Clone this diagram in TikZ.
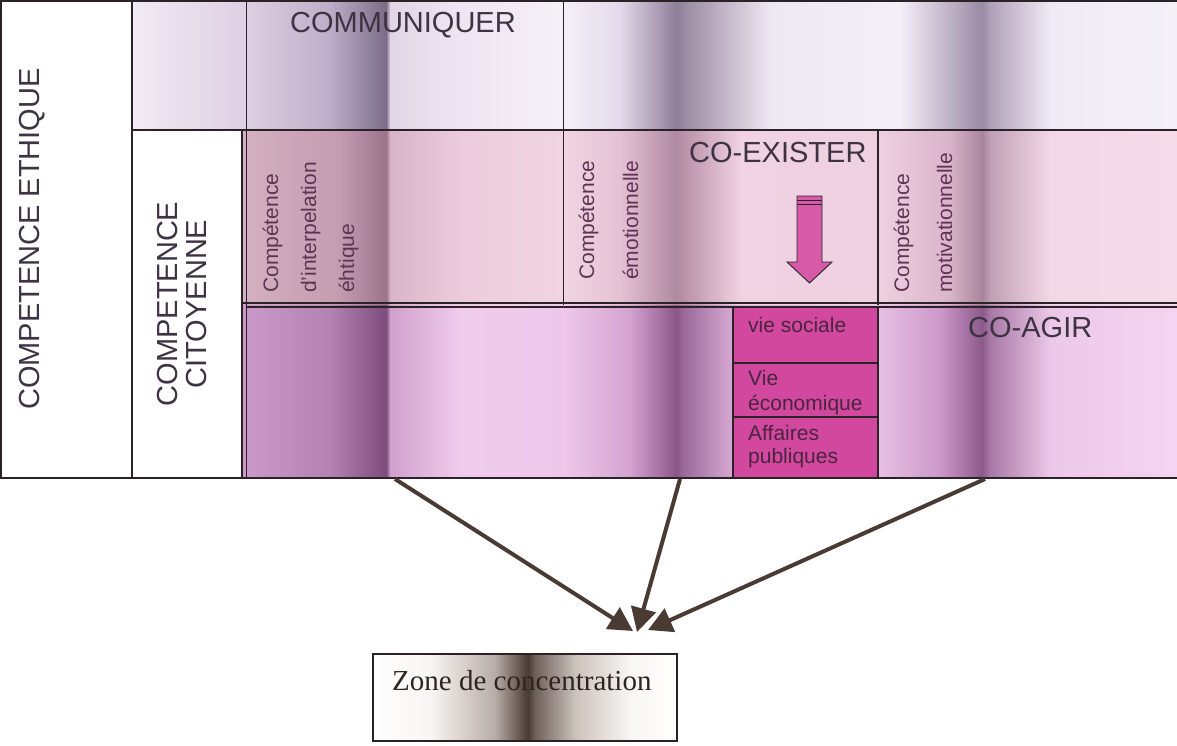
\documentclass[tikz,border=0pt]{standalone}
\usepackage{fontspec}
\setmainfont{Liberation Serif}
\newfontfamily\arial{Liberation Sans}
\usetikzlibrary{arrows.meta}
% top band colours
\definecolor{top1}{HTML}{F2EAF4}\definecolor{top2}{HTML}{DCD0E2}\definecolor{top3}{HTML}{BCAEC8}\definecolor{top4}{HTML}{7C6C88}
\definecolor{top5}{HTML}{E0D6E6}\definecolor{top6}{HTML}{ECE4F0}\definecolor{top7}{HTML}{F6F0F8}\definecolor{top8}{HTML}{E2DAEA}
\definecolor{top9}{HTML}{8E7E98}\definecolor{top10}{HTML}{9A8AA2}\definecolor{top11}{HTML}{EEE8F2}\definecolor{top12}{HTML}{F4EEF8}
\definecolor{top13}{HTML}{9A8AA4}\definecolor{top14}{HTML}{B0A0B8}\definecolor{top15}{HTML}{F0EAF4}\definecolor{top16}{HTML}{F4F0F8}
% middle band colours
\definecolor{mid1}{HTML}{D4B0C0}\definecolor{mid2}{HTML}{C49CB0}\definecolor{mid3}{HTML}{9C748A}\definecolor{mid4}{HTML}{D8B4C8}
\definecolor{mid5}{HTML}{ECCCDC}\definecolor{mid6}{HTML}{F0D4E2}\definecolor{mid7}{HTML}{E4C2D4}\definecolor{mid8}{HTML}{B08AA0}
\definecolor{mid9}{HTML}{B890A6}\definecolor{mid10}{HTML}{F0D2E2}\definecolor{mid11}{HTML}{EED0E0}\definecolor{mid12}{HTML}{D8B4C8}
\definecolor{mid13}{HTML}{A8849A}\definecolor{mid14}{HTML}{C0A0B4}\definecolor{mid15}{HTML}{F2D8E6}\definecolor{mid16}{HTML}{F6DCEA}
% bottom band colours
\definecolor{bot1}{HTML}{CC9ACA}\definecolor{bot2}{HTML}{B482B2}\definecolor{bot3}{HTML}{7E4C7C}\definecolor{bot4}{HTML}{D0A0CC}
\definecolor{bot5}{HTML}{F0CCEC}\definecolor{bot6}{HTML}{EEC8EA}\definecolor{bot7}{HTML}{D4A2D0}\definecolor{bot8}{HTML}{8A5688}
\definecolor{bot9}{HTML}{9A6898}\definecolor{bot10}{HTML}{E0B4DC}\definecolor{bot11}{HTML}{E8C0E4}\definecolor{bot12}{HTML}{CC98C8}
\definecolor{bot13}{HTML}{8C5A8A}\definecolor{bot14}{HTML}{A878A6}\definecolor{bot15}{HTML}{ECC8E8}\definecolor{bot16}{HTML}{F4D4F0}
% zone colours
\definecolor{zon1}{HTML}{FFFFFF}\definecolor{zon2}{HTML}{F8F6F4}\definecolor{zon3}{HTML}{B8ACA6}\definecolor{zon4}{HTML}{5E4C46}
\definecolor{zon5}{HTML}{4A3A34}\definecolor{zon6}{HTML}{6E5E58}\definecolor{zon7}{HTML}{CCC2BC}\definecolor{zon8}{HTML}{F8F6F4}
% others
\definecolor{magbox}{HTML}{D2489E}
\definecolor{pinkarrow}{HTML}{D65AA8}
\definecolor{capc}{HTML}{3E3342}
\definecolor{smallc}{HTML}{5E3452}
\definecolor{magtext}{HTML}{4A2440}
\definecolor{linec}{HTML}{2A2226}
\definecolor{arrc}{HTML}{4A3A34}
\definecolor{zonetext}{HTML}{2E2420}
\newcommand\bandfill[3]{%
  \foreach \x/\c [count=\i, remember=\x as \xp (initially 0), remember=\c as \cp (initially white)] in {#3}{%
    \ifnum\i>1 \shade[left color=\cp, right color=\c] (\xp,#1) rectangle (\x+0.6,#2);\fi
  }}
\begin{document}
\begin{tikzpicture}[x=1pt,y=-1pt,
  caps/.style={font=\arial\fontsize{29}{29}\selectfont, text=capc, inner sep=0pt},
  smalltxt/.style={font=\arial\fontsize{21}{21}\selectfont, text=smallc, inner sep=0pt, rotate=90, anchor=base west},
  magtxt/.style={font=\arial\fontsize{21}{21}\selectfont, text=magtext, inner sep=0pt, anchor=base west},
  gridline/.style={draw=linec, line width=1.3pt},
  thinline/.style={draw=linec, line width=0.8pt},
  bigarrow/.style={draw=arrc, line width=4pt, -{Triangle[length=24pt,width=25pt]}}]
\useasboundingbox (0,0) rectangle (1177,745);
\fill[white] (0,0) rectangle (1177,745);
% bands
\bandfill{1}{130}{132/top1,246/top2,330/top3,386/top4,390/top5,450/top6,563/top7,620/top8,676/top9,684/top10,770/top11,900/top12,982/top13,990/top14,1050/top15,1176.4/top16}
\bandfill{130}{305}{242/mid1,340/mid2,386/mid3,390/mid4,460/mid5,563/mid6,620/mid7,676/mid8,682/mid9,740/mid10,880/mid11,950/mid12,982/mid13,990/mid14,1050/mid15,1176.4/mid16}
\bandfill{305}{478}{242/bot1,330/bot2,386/bot3,390/bot4,460/bot5,563/bot6,630/bot7,676/bot8,682/bot9,740/bot10,878/bot11,940/bot12,982/bot13,990/bot14,1050/bot15,1176.4/bot16}
\fill[white] (1,1) rectangle (132,478);
\fill[white] (132,130) rectangle (242,478);
% magenta boxes
\fill[magbox] (733,307) rectangle (878,478);
% zone shading
\bandfill{654}{741}{373/zon1,430/zon2,495/zon3,522/zon4,528/zon5,534/zon6,575/zon7,630/zon8,676.4/zon1}
% grid lines
\draw[gridline] (1,1) rectangle (132,478);
\draw[gridline] (132,1) -- (1177,1);
\draw[gridline, line width=2pt] (132,130) -- (1177,130);
\draw[gridline] (242,130) -- (242,478);
\draw[thinline] (246,1) -- (246,478);
\draw[thinline] (563,1) -- (563,305);
\draw[gridline] (878,130) -- (878,305);
\draw[gridline] (242,303) -- (1177,303);
\draw[gridline] (246,307) -- (1177,307);
\draw[gridline] (733,307) rectangle (878,478);
\draw[gridline] (733,363) -- (878,363);
\draw[gridline] (733,417) -- (878,417);
\draw[gridline, line width=2.5pt] (0,478) -- (1177,478);
% block arrow in CO-EXISTER
\filldraw[fill=pinkarrow, draw=linec, line width=0.9pt] (797,196) -- (822,196) -- (822,262) -- (832,262) -- (809.5,283) -- (787,262) -- (797,262) -- cycle;
\draw[linec, line width=0.9pt] (797,200) -- (822,200) (797,204) -- (822,204);
% big labels
\node[caps, rotate=90] (ethique) at (32,239) {COMPETENCE ETHIQUE};
\node[caps, rotate=90, align=center] (citoyenne) at (182,304) {COMPETENCE\\CITOYENNE};
\node[caps, anchor=base west] (communiquer) at (290,32) {COMMUNIQUER};
\node[caps, anchor=base west] (coexister) at (689,162) {CO-EXISTER};
\node[caps, anchor=base west] (coagir) at (968,337) {CO-AGIR};
% rotated small texts
\node[smalltxt] (c1a) at (278,293) {Compétence};
\node[smalltxt] (c1b) at (316,293) {d’interpelation};
\node[smalltxt] (c1c) at (354,293) {éhtique};
\node[smalltxt] (c2a) at (594,280) {Compétence};
\node[smalltxt] (c2b) at (638,280) {émotionnelle};
\node[smalltxt] (c3a) at (909,293) {Compétence};
\node[smalltxt] (c3b) at (952,293) {motivationnelle};
% magenta box texts
\node[magtxt] (vs) at (748,332) {vie sociale};
\node[magtxt] (ve1) at (748,385) {Vie};
\node[magtxt] (ve2) at (748,410) {économique};
\node[magtxt] (ap1) at (748,440) {Affaires};
\node[magtxt] (ap2) at (748,463) {publiques};
% zone box
\node[draw=linec, line width=1.3pt, minimum width=304pt, minimum height=87pt, inner sep=0pt] (zone) at (525,697.5) {};
\node[font=\fontsize{29}{29}\selectfont, text=zonetext, anchor=base west, inner sep=0pt] (zonetxt) at (392,690) {Zone de concentration};
% arrows
\coordinate (s1) at (395,479);
\coordinate (s2) at (680,479);
\coordinate (s3) at (985,479);
\coordinate (e1) at (633,631);
\coordinate (e2) at (637,632);
\coordinate (e3) at (648,630);
\draw[bigarrow] (s1) -- (e1);
\draw[bigarrow] (s2) -- (e2);
\draw[bigarrow] (s3) -- (e3);
\end{tikzpicture}
\end{document}
